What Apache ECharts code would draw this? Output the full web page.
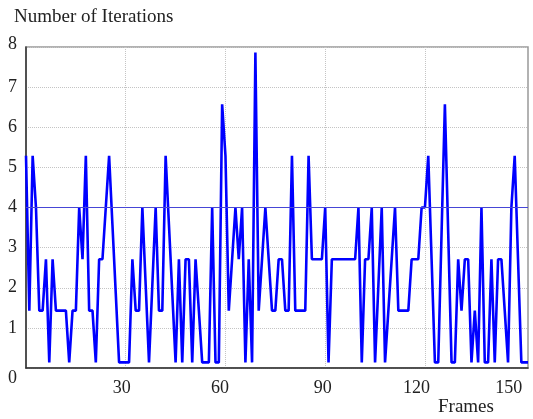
<!DOCTYPE html>
<html>
<head>
<meta charset="utf-8">
<title>Number of Iterations</title>
<script src="https://cdn.jsdelivr.net/npm/echarts@6/dist/echarts.min.js"></script>
<style>
  html, body { margin: 0; padding: 0; background: #fff; }
  #chart { width: 533px; height: 419px; }
</style>
</head>
<body>
<div id="chart"></div>
<script>
  // iterations per frame (frame 0 .. 151)
  var iterations = [
    5.29, 1.43, 5.29, 4.00, 1.43, 1.43, 2.71, 0.14, 2.71, 1.43,
    1.43, 1.43, 1.43, 0.14, 1.43, 1.43, 4.00, 2.71, 5.29, 1.43,
    1.43, 0.14, 2.71, 2.71, 4.00, 5.29, 3.57, 1.86, 0.14, 0.14,
    0.14, 0.14, 2.71, 1.43, 1.43, 4.00, 2.07, 0.14, 2.07, 4.00,
    1.43, 1.43, 5.29, 3.57, 1.86, 0.14, 2.71, 0.14, 2.71, 2.71,
    0.14, 2.71, 1.43, 0.14, 0.14, 0.14, 4.00, 0.14, 0.14, 6.57,
    5.29, 1.43, 2.71, 4.00, 2.71, 4.00, 0.14, 2.71, 0.14, 7.86,
    1.43, 2.71, 4.00, 2.71, 1.43, 1.43, 2.71, 2.71, 1.43, 1.43,
    5.29, 1.43, 1.43, 1.43, 1.43, 5.29, 2.71, 2.71, 2.71, 2.71,
    4.00, 0.14, 2.71, 2.71, 2.71, 2.71, 2.71, 2.71, 2.71, 2.71,
    4.00, 0.14, 2.71, 2.71, 4.00, 0.14, 2.07, 4.00, 0.14, 1.43,
    2.71, 4.00, 1.43, 1.43, 1.43, 1.43, 2.71, 2.71, 2.71, 4.00,
    4.00, 5.29, 2.71, 0.14, 0.14, 3.36, 6.57, 3.36, 0.14, 0.14,
    2.71, 1.43, 2.71, 2.71, 0.14, 1.43, 0.14, 4.00, 0.14, 0.14,
    2.71, 0.14, 2.71, 2.71, 1.43, 0.14, 4.00, 5.29, 2.71, 0.14,
    0.14, 0.14
  ];
  var xGridValues = [30, 60, 90, 120];
  var xLabelValues = [30, 60, 90, 120, 150];
  var refLevel = 4;

  var font = 'Liberation Serif';
  var myChart = echarts.init(document.getElementById('chart'));

  var option = {
    animation: false,
    title: {
      text: 'Number of Iterations',
      left: 9,
      top: 3,
      textStyle: { fontFamily: font, fontSize: 19, fontWeight: 'normal', color: '#222' }
    },
    graphic: [{
      type: 'text',
      left: 438,
      top: 398,
      style: { text: 'Frames', font: '19px "' + font + '"', fill: '#222' }
    }],
    grid: {
      left: 26, right: 5, top: 47, bottom: 51,
      show: true, borderColor: '#999', borderWidth: 1.5
    },
    xAxis: {
      type: 'value',
      min: 0,
      max: 151,
      axisLine: { lineStyle: { color: '#303030', width: 1.5 } },
      axisTick: { show: false, customValues: xGridValues },
      splitLine: { show: true, lineStyle: { type: 'dotted', color: '#c4c4c4', width: 1 } },
      axisLabel: {
        customValues: xLabelValues,
        margin: 11,
        fontFamily: font, fontSize: 18, color: '#222',
        formatter: function (v) { return '{s' + v + '|' + v + '}'; },
        rich: {
          s30: { fontFamily: font, fontSize: 18, color: '#222', padding: [0, 8, 0, 0] },
          s60: { fontFamily: font, fontSize: 18, color: '#222', padding: [0, 11, 0, 0] },
          s90: { fontFamily: font, fontSize: 18, color: '#222', padding: [0, 5, 0, 0] },
          s120: { fontFamily: font, fontSize: 18, color: '#222', padding: [0, 17, 0, 0] },
          s150: { fontFamily: font, fontSize: 18, color: '#222', padding: [0, 32, 0, 0] }
        }
      }
    },
    yAxis: {
      type: 'value',
      min: 0,
      max: 8,
      interval: 1,
      axisLine: { show: true, lineStyle: { color: '#303030', width: 1.5 } },
      axisTick: { show: false },
      splitLine: { show: true, lineStyle: { type: 'dotted', color: '#c4c4c4', width: 1 } },
      axisLabel: {
        margin: 9,
        fontFamily: font, fontSize: 18, color: '#222',
        formatter: function (v) {
          if (v === 0) return '{z|0}';
          if (v === 8) return '{t|8}';
          return String(v);
        },
        rich: {
          z: { fontFamily: font, fontSize: 18, color: '#222', padding: [20, 0, 0, 0] },
          t: { fontFamily: font, fontSize: 18, color: '#222', padding: [0, 0, 6, 0] }
        }
      }
    },
    series: [{
      type: 'line',
      data: iterations.map(function (v, i) { return [i, v]; }),
      showSymbol: false,
      symbol: 'none',
      lineStyle: { color: '#0000ff', width: 2.6 },
      markLine: {
        silent: true,
        symbol: ['none', 'none'],
        label: { show: false },
        lineStyle: { color: '#4646d6', width: 1, type: 'solid' },
        data: [{ yAxis: refLevel }]
      }
    }]
  };

  myChart.setOption(option);
</script>
</body>
</html>
